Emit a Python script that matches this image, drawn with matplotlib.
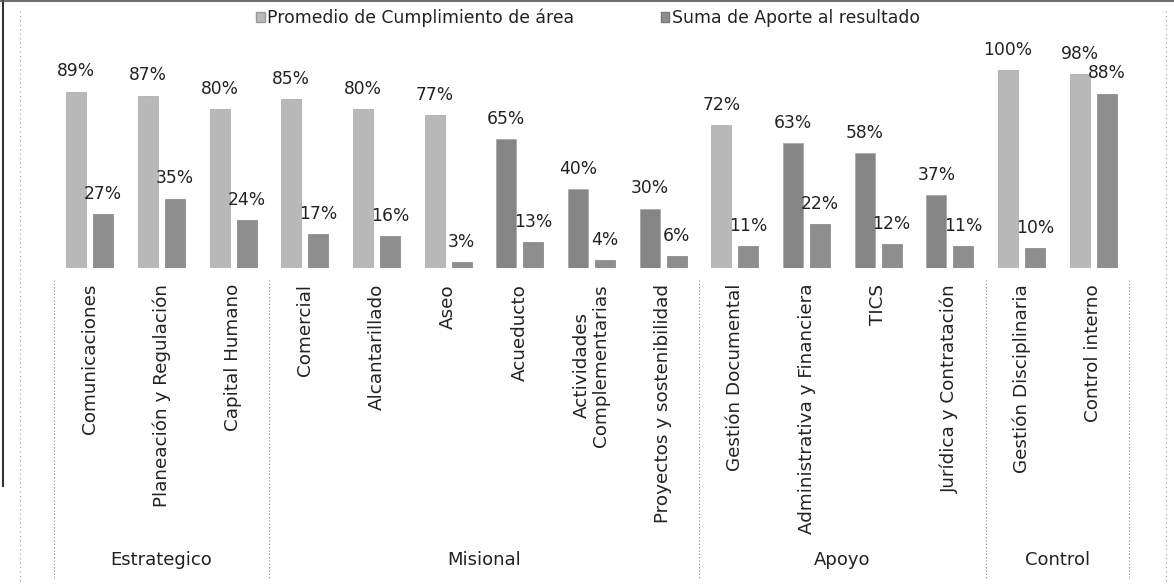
import matplotlib
matplotlib.use("Agg")
import matplotlib.pyplot as plt
import numpy as np
from matplotlib.patches import Patch
from matplotlib.transforms import blended_transform_factory
from matplotlib.lines import Line2D

categories = ["Comunicaciones", "Planeación y Regulación", "Capital Humano",
              "Comercial", "Alcantarillado", "Aseo", "Acueducto",
              "Actividades\nComplementarias", "Proyectos y sostenibilidad",
              "Gestión Documental", "Administrativa y Financiera", "TICS",
              "Jurídica y Contratación", "Gestión Disciplinaria", "Control interno"]
groups = ["Estrategico", "Misional", "Apoyo", "Control"]
group_sizes = [3, 6, 4, 2]
promedio = [89, 87, 80, 85, 80, 77, 65, 40, 30, 72, 63, 58, 37, 100, 98]
aporte = [27, 35, 24, 17, 16, 3, 13, 4, 6, 11, 22, 12, 11, 10, 88]
series_names = ["Promedio de Cumplimiento de área", "Suma de Aporte al resultado"]

plt.rcParams['font.family'] = ['DejaVu Sans']
W, H = 1174, 586
fig = plt.figure(figsize=(W / 100, H / 100), dpi=100)
fig.patch.set_facecolor("white")

ax = fig.add_axes([54 / W, (H - 268) / H, 1075 / W, 228 / H])
ax.set_xlim(-0.5, len(categories) - 0.5)
ax.set_ylim(0, 115)
ax.axis("off")

light = "#b9b9b9"
dark1 = "#858585"
dark2 = "#8e8e8e"
x = np.arange(len(categories))
bw = 0.28
off = 0.188
c1 = [light if v >= 70 else dark1 for v in promedio]
ax.bar(x - off, promedio, bw, color=c1, edgecolor="#a5a5a5", linewidth=0.5)
ax.bar(x + off, aporte, bw, color=dark2, edgecolor="#808080", linewidth=0.5)

fs_val = 12.3
for xi, v in zip(x, promedio):
    ax.annotate(f"{v}%", (xi - off, v), xytext=(0, 8), textcoords="offset points",
                ha="center", va="bottom", fontsize=fs_val, color="#222222")
for xi, v in zip(x, aporte):
    ax.annotate(f"{v}%", (xi + off, v), xytext=(0, 8), textcoords="offset points",
                ha="center", va="bottom", fontsize=fs_val, color="#222222")

# category labels
trans = blended_transform_factory(ax.transData, ax.transAxes)
def ypix(p):
    return (268 - p) / 228.0

for xi, lab in zip(x, categories):
    ax.text(xi, ypix(284), lab, rotation=90, ha="center", va="top",
            multialignment="center", fontsize=13.2, color="#222222",
            transform=trans, linespacing=1.1)

# group labels and separators
start = 0
bounds = [-0.5]
for g, n in zip(groups, group_sizes):
    center = start + (n - 1) / 2
    ax.text(center, ypix(560), g, ha="center", va="center", fontsize=13,
            color="#222222", transform=trans)
    start += n
    bounds.append(start - 0.5)
for b in bounds:
    ax.plot([b, b], [ypix(280), ypix(578)], transform=trans, clip_on=False,
            color="#8a8a8a", linewidth=0.8, linestyle=(0, (1, 2)))

# outer chart border lines
fig.add_artist(Line2D([20 / W, 20 / W], [5 / H, 1 - 8 / H], color="#9a9a9a",
                      linewidth=0.8, linestyle=(0, (1, 3))))
fig.add_artist(Line2D([1166 / W, 1166 / W], [5 / H, 1 - 8 / H], color="#9a9a9a",
                      linewidth=0.8, linestyle=(0, (1, 3))))
fig.add_artist(Line2D([3 / W, 3 / W], [100 / H, 1], color="#333333", linewidth=1.5))
fig.add_artist(Line2D([0, 1], [1 - 1 / H, 1 - 1 / H], color="#555555", linewidth=1.2))

handles = [Patch(facecolor=light, edgecolor="#9a9a9a"),
           Patch(facecolor=dark2, edgecolor="#7a7a7a")]
fig.legend(handles, series_names, loc="center", bbox_to_anchor=(588 / W, 1 - 18 / H),
           ncol=2, frameon=False, fontsize=12.4, handlelength=0.5, handleheight=0.5,
           handletextpad=0.15, columnspacing=5.0, labelcolor="#222222")

fig.savefig("out.png", dpi=100, facecolor="white")
